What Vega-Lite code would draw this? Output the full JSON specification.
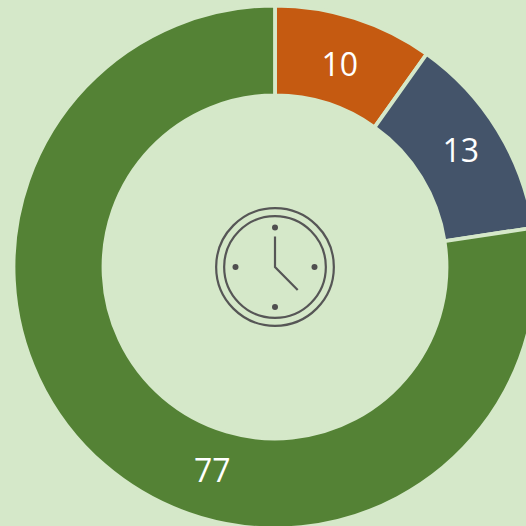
{"$schema":"https://vega.github.io/schema/vega-lite/v6.json","width":550,"height":534,"padding":0,"autosize":"none","background":"#D5E8C9","view":{"stroke":null},
"datasets":{"slices":[{"i":1,"series":"a","value":10,"share":9.85},{"i":2,"series":"b","value":13,"share":12.75},{"i":3,"series":"c","value":77,"share":77.4}],
"rings":[{"cx":0,"cy":0,"d":117.7},{"cx":0,"cy":0,"d":101.7}],
"ticks":[{"cx":0,"cy":-39.5},{"cx":39.5,"cy":0},{"cx":0,"cy":40},{"cx":-39.5,"cy":0}],
"hands":[{"k":1,"cx":0,"cy":-30.5},{"k":2,"cx":0,"cy":0},{"k":3,"cx":22.7,"cy":23}]},
"data":{"name":"slices"},
"encoding":{"theta":{"field":"share","type":"quantitative","stack":true,"scale":{"domain":[0,100]}},"order":{"field":"i","type":"ordinal"},"detail":{"field":"series"}},
"layer":[
{"mark":{"type":"arc","outerRadius":261.5,"innerRadius":171.5,"stroke":"#D5E8C9","strokeWidth":3.8},
 "encoding":{"color":{"field":"series","type":"nominal","legend":null,"scale":{"domain":["a","b","c"],"range":["#C55A11","#44546A","#548235"]}}}},
{"mark":{"type":"text","radius":213,"dy":2,"font":"Open Sans","fontSize":32,"fill":"#FFFFFF","baseline":"middle","align":"center"},
 "encoding":{"text":{"condition":{"test":"datum.i==1","field":"value","type":"quantitative"},"value":""}}},
{"mark":{"type":"text","radius":218,"dy":-1,"font":"Open Sans","fontSize":32,"fill":"#FFFFFF","baseline":"middle","align":"center"},
 "encoding":{"text":{"condition":{"test":"datum.i==2","field":"value","type":"quantitative"},"value":""}}},
{"mark":{"type":"text","radius":216,"dx":78,"dy":41,"font":"Open Sans","fontSize":32,"fill":"#FFFFFF","baseline":"middle","align":"center"},
 "encoding":{"text":{"condition":{"test":"datum.i==3","field":"value","type":"quantitative"},"value":""}}},
{"data":{"name":"rings"},"mark":{"type":"point","filled":false,"stroke":"#565656","strokeWidth":2.2,"opacity":1},
 "encoding":{"theta":null,"order":null,"detail":null,
 "x":{"field":"cx","type":"quantitative","axis":null,"scale":{"domain":[-275,275]}},
 "y":{"field":"cy","type":"quantitative","axis":null,"scale":{"domain":[267,-267]}},
 "size":{"field":"d","type":"quantitative","legend":null,"scale":{"type":"pow","exponent":2,"domain":[0,100],"range":[0,10000]}}}},
{"data":{"name":"ticks"},"mark":{"type":"point","filled":true,"fill":"#4F4F4F","size":36,"opacity":1},
 "encoding":{"theta":null,"order":null,"detail":null,
 "x":{"field":"cx","type":"quantitative","axis":null,"scale":{"domain":[-275,275]}},
 "y":{"field":"cy","type":"quantitative","axis":null,"scale":{"domain":[267,-267]}}}},
{"data":{"name":"hands"},"mark":{"type":"line","stroke":"#565656","strokeWidth":2.2},
 "encoding":{"theta":null,"detail":null,
 "order":{"field":"k","type":"ordinal"},
 "x":{"field":"cx","type":"quantitative","axis":null,"scale":{"domain":[-275,275]}},
 "y":{"field":"cy","type":"quantitative","axis":null,"scale":{"domain":[267,-267]}}}}
],
"resolve":{"scale":{"size":"independent"}}}
